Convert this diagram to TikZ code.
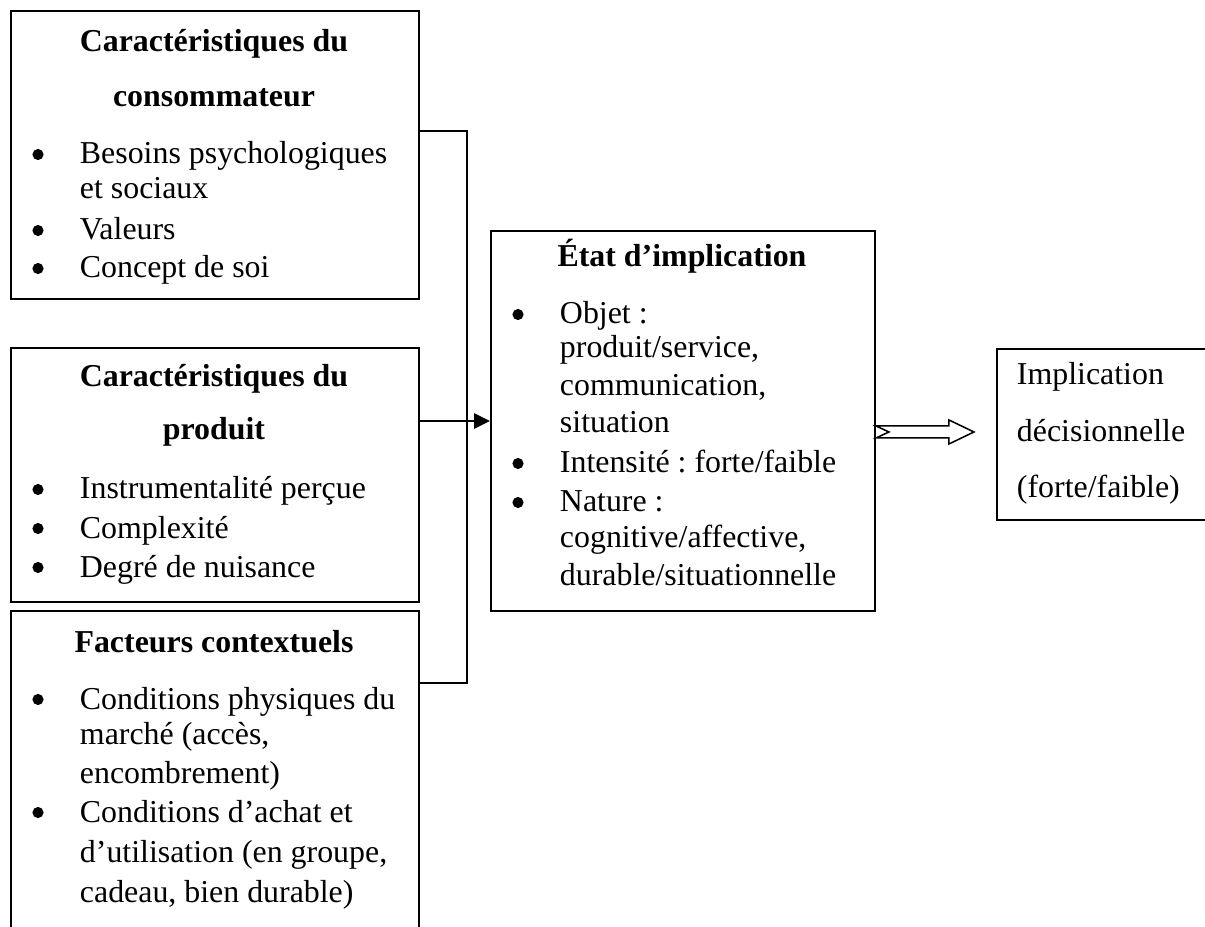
\documentclass[tikz,border=0pt]{standalone}
\usepackage{fontspec}
\setmainfont{Liberation Serif}
\usetikzlibrary{arrows.meta,calc}
\frenchspacing
\def\unite{0.458pt}
\def\taille{\fontsize{14.6}{16}\selectfont}

\begin{document}
\begin{tikzpicture}[x=\unite, y=-\unite, line width=0.9pt, font=\taille,
  cadre/.style={draw, rectangle, anchor=north west, inner sep=0pt},
  titre/.style={anchor=base, inner sep=0pt, font=\taille\bfseries},
  ligne/.style={anchor=base west, inner sep=0pt},
  puce/.style={circle, fill, inner sep=0pt, minimum size=5.1pt}]
\clip (0,0) rectangle (1205,927);

\node[cadre, minimum width=408*\unite, minimum height=288*\unite] (cons) at (10,10) {};
\node[cadre, minimum width=408*\unite, minimum height=254*\unite] (prod) at (10,347) {};
\node[cadre, minimum width=408*\unite, minimum height=350*\unite] (ctx) at (10,610) {};
\node[cadre, minimum width=384*\unite, minimum height=380*\unite] (impl) at (490,230) {};
\node[cadre, minimum width=234*\unite, minimum height=171*\unite] (res) at (996,348) {};

\node[titre] (tcons1) at (214,52) {Caractéristiques du};
\node[titre] (tcons2) at (214,107) {consommateur};
\foreach \y/\t in {164/Besoins psychologiques, 199/et sociaux, 240/Valeurs, 278/Concept de soi}
  \node[ligne] (lcons\y) at (79,\y) {\t};
\foreach \y in {164,240,278}
  \node[puce] (pcons\y) at (38,\y-9.5) {};

\node[titre] (tprod1) at (214,387) {Caractéristiques du};
\node[titre] (tprod2) at (214,440) {produit};
\foreach \y/\t in {499/Instrumentalité perçue, 538/Complexité, 577/Degré de nuisance}
  \node[ligne] (lprod\y) at (79,\y) {\t};
\foreach \y in {499,538,577}
  \node[puce] (pprod\y) at (38,\y-9.5) {};

\node[titre] (tctx) at (214,652) {Facteurs contextuels};
\foreach \y/\t in {709/Conditions physiques du, 744/{marché (accès,}, 783/encombrement),
    822/Conditions d’achat et, 862/{d’utilisation (en groupe,}, 902/{cadeau, bien durable)}}
  \node[ligne] (lctx\y) at (79,\y) {\t};
\foreach \y in {709,822}
  \node[puce] (pctx\y) at (38,\y-9.5) {};

\node[titre] (timpl) at (682,267) {État d’implication};
\foreach \y/\t in {324/Objet :, 358/{produit/service,}, 396/{communication,}, 433/situation,
    473/{Intensité : forte/faible}, 512/Nature :, 548/{cognitive/affective,}, 586/{durable/situationnelle}}
  \node[ligne] (limpl\y) at (559,\y) {\t};
\foreach \y in {324,473,512}
  \node[puce] (pimpl\y) at (518,\y-9.5) {};

\foreach \y/\t in {385/Implication, 442/décisionnelle, 498/{(forte/faible)}}
  \node[ligne] (lres\y) at (1016,\y) {\t};

\coordinate (haut) at (467,131);
\coordinate (bas) at (467,683);
\draw (cons.east |- haut) -- (haut) -- (bas) -- (ctx.east |- bas);
\draw[-{Triangle[length=7.3pt, width=7pt]}] (prod.east |- impl.west) -- (impl.west);

\coordinate (fl) at ($(impl.east)+(0,11)$);
\draw[line width=0.7pt] ($(fl)+(0,-6)$) -- ++(73,0) -- ++(0,-6) -- ++(25,12) -- ++(-25,12)
  -- ++(0,-6) -- ++(-73,0) -- ++(13,-6) -- cycle;
\end{tikzpicture}
\end{document}
